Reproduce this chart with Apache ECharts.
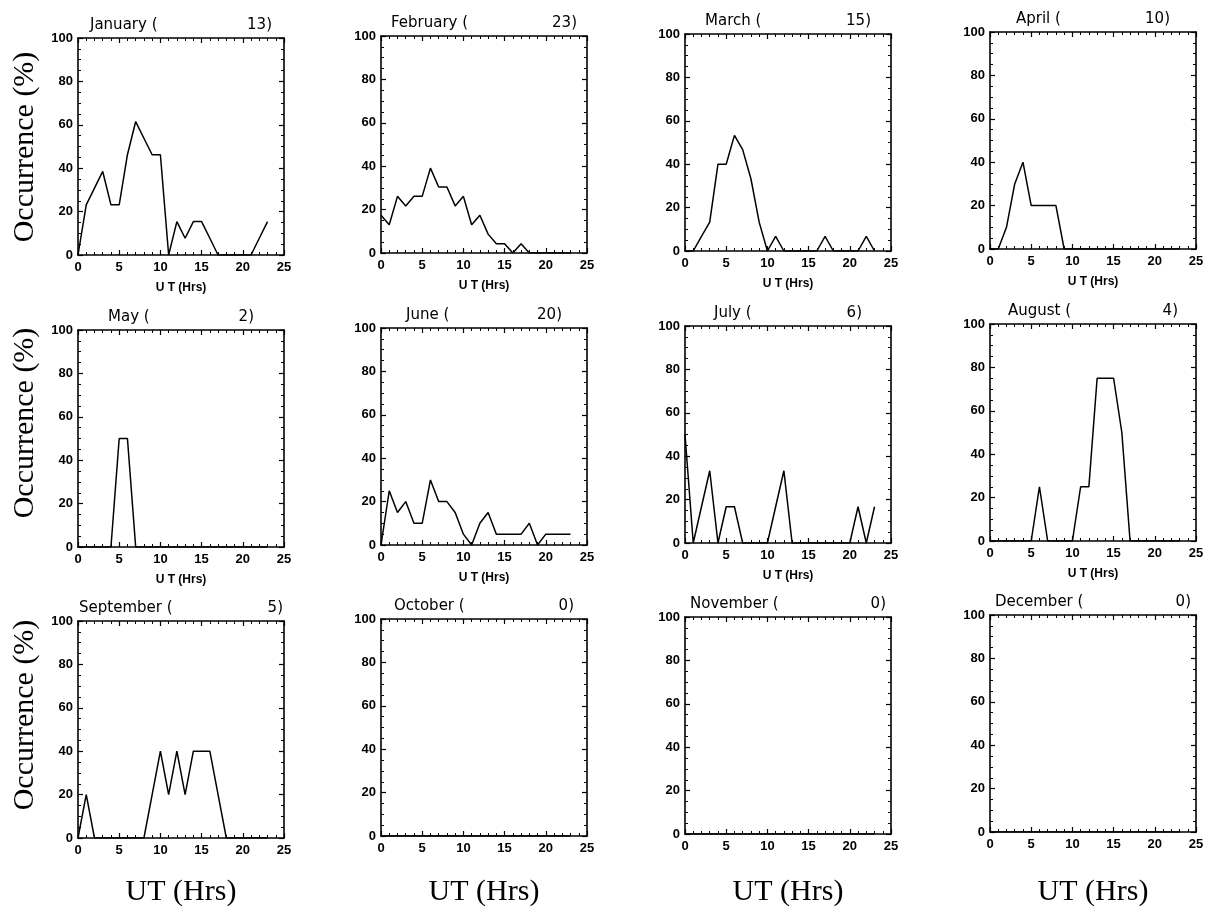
<!DOCTYPE html>
<html>
<head>
<meta charset="utf-8">
<script src="https://cdn.jsdelivr.net/npm/echarts@6/dist/echarts.min.js"></script>
<style>
  html, body { margin: 0; padding: 0; background: #fff; }
  #main { width: 1209px; height: 919px; }
</style>
</head>
<body>
<div id="main"></div>
<script>
// hours 0..23
var hours = [0, 1, 2, 3, 4, 5, 6, 7, 8, 9, 10, 11, 12, 13, 14, 15, 16, 17, 18, 19, 20, 21, 22, 23];

var months = ['January', 'February', 'March', 'April', 'May', 'June',
  'July', 'August', 'September', 'October', 'November', 'December'];
var counts = [13, 23, 15, 10, 2, 20, 6, 4, 5, 0, 0, 0]; // number of events

// occurrence (%) per hour
var jan = [0, 23.1, 30.8, 38.5, 23.1, 23.1, 46.2, 61.5, 53.8, 46.2, 46.2, 0, 15.4, 7.7, 15.4, 15.4, 7.7, 0, 0, 0, 0, 0, 7.7, 15.4];
var feb = [17.4, 13.0, 26.1, 21.7, 26.1, 26.1, 39.1, 30.4, 30.4, 21.7, 26.1, 13.0, 17.4, 8.7, 4.3, 4.3, 0, 4.3, 0, 0, 0, 0, 0, 0];
var mar = [0, 0, 6.7, 13.3, 40, 40, 53.3, 46.7, 33.3, 13.3, 0, 6.7, 0, 0, 0, 0, 0, 6.7, 0, 0, 0, 0, 6.7, 0];
var apr = [0, 0, 10, 30, 40, 20, 20, 20, 20, 0, 0, 0, 0, 0, 0, 0, 0, 0, 0, 0, 0, 0, 0, 0];
var may = [0, 0, 0, 0, 0, 50, 50, 0, 0, 0, 0, 0, 0, 0, 0, 0, 0, 0, 0, 0, 0, 0, 0, 0];
var jun = [0, 25, 15, 20, 10, 10, 30, 20, 20, 15, 5, 0, 10, 15, 5, 5, 5, 5, 10, 0, 5, 5, 5, 5];
var jul = [50, 0, 16.7, 33.3, 0, 16.7, 16.7, 0, 0, 0, 0, 16.7, 33.3, 0, 0, 0, 0, 0, 0, 0, 0, 16.7, 0, 16.7];
var aug = [0, 0, 0, 0, 0, 0, 25, 0, 0, 0, 0, 25, 25, 75, 75, 75, 50, 0, 0, 0, 0, 0, 0, 0];
var sep = [0, 20, 0, 0, 0, 0, 0, 0, 0, 20, 40, 20, 40, 20, 40, 40, 40, 20, 0, 0, 0, 0, 0, 0];
var oct = [0, 0, 0, 0, 0, 0, 0, 0, 0, 0, 0, 0, 0, 0, 0, 0, 0, 0, 0, 0, 0, 0, 0, 0];
var nov = [0, 0, 0, 0, 0, 0, 0, 0, 0, 0, 0, 0, 0, 0, 0, 0, 0, 0, 0, 0, 0, 0, 0, 0];
var dec = [0, 0, 0, 0, 0, 0, 0, 0, 0, 0, 0, 0, 0, 0, 0, 0, 0, 0, 0, 0, 0, 0, 0, 0];
var monthData = [jan, feb, mar, apr, may, jun, jul, aug, sep, oct, nov, dec];

// layout of the 4x3 panels
var colLeft = [78, 381, 685, 990];
var rowTop = [38, 330, 621];
var plotW = 206, plotH = 217;
var titleInset = [12, 10, 20, 26, 30, 25, 29, 18, 1, 13, 5, 5]; // title string spacing

var sans = 'DejaVu Sans';
var tickFont = 'Liberation Sans';
var serif = 'Liberation Serif';

var grids = [], xAxes = [], yAxes = [], seriesList = [], texts = [];

for (var i = 0; i < 12; i++) {
  var r = Math.floor(i / 4), c = i % 4;
  var pLeft = colLeft[c];
  var pTop = rowTop[r] - 2 * c;
  grids.push({ left: pLeft, top: pTop, width: plotW, height: plotH });

  var axLine = { color: '#000', width: 1.6 };
  var tick = { show: true, inside: true, length: 5, lineStyle: { color: '#000', width: 1.2 } };
  // bottom + top x axes
  xAxes.push({
    type: 'value', gridIndex: i, position: 'bottom', min: 0, max: 25, interval: 5,
    axisLine: { onZero: false, lineStyle: axLine },
    axisTick: tick,
    minorTick: { show: true, splitNumber: 5, length: 3, lineStyle: { color: '#000' } },
    splitLine: { show: false },
    axisLabel: { color: '#000', fontFamily: tickFont, fontWeight: 'bold', fontSize: 13, margin: 6 },
    name: r < 2 ? 'U T (Hrs)' : '',
    nameLocation: 'middle', nameGap: 27,
    nameTextStyle: { color: '#000', fontFamily: tickFont, fontWeight: 'bold', fontSize: 12 }
  });
  xAxes.push({
    type: 'value', gridIndex: i, position: 'top', min: 0, max: 25, interval: 5,
    axisLine: { onZero: false, lineStyle: axLine },
    axisTick: tick,
    minorTick: { show: true, splitNumber: 5, length: 3, lineStyle: { color: '#000' } },
    splitLine: { show: false },
    axisLabel: { show: false }
  });
  // left + right y axes
  yAxes.push({
    type: 'value', gridIndex: i, position: 'left', min: 0, max: 100, interval: 20,
    axisLine: { show: true, onZero: false, lineStyle: axLine },
    axisTick: tick,
    minorTick: { show: true, splitNumber: 4, length: 3, lineStyle: { color: '#000' } },
    splitLine: { show: false },
    axisLabel: { color: '#000', fontFamily: tickFont, fontWeight: 'bold', fontSize: 13, margin: 5 }
  });
  yAxes.push({
    type: 'value', gridIndex: i, position: 'right', min: 0, max: 100, interval: 20,
    axisLine: { show: true, onZero: false, lineStyle: axLine },
    axisTick: tick,
    minorTick: { show: true, splitNumber: 4, length: 3, lineStyle: { color: '#000' } },
    splitLine: { show: false },
    axisLabel: { show: false }
  });

  var vals = monthData[i];
  seriesList.push({
    type: 'line',
    xAxisIndex: 2 * i,
    yAxisIndex: 2 * i,
    showSymbol: false,
    lineStyle: { color: '#000', width: 1.5 },
    data: hours.map(function (h, k) { return [h, vals[k]]; })
  });

  // panel title "Month (        n)"
  texts.push({
    type: 'text', x: pLeft + titleInset[i], y: pTop - 13,
    style: { text: months[i] + ' (', font: '15px "' + sans + '"', fill: '#000',
      textAlign: 'left', textVerticalAlign: 'middle' }
  });
  texts.push({
    type: 'text', x: pLeft + plotW - titleInset[i], y: pTop - 13,
    style: { text: counts[i] + ')', font: '15px "' + sans + '"', fill: '#000',
      textAlign: 'right', textVerticalAlign: 'middle' }
  });

  if (r === 2) {
    texts.push({
      type: 'text', x: pLeft + plotW / 2, y: 892,
      style: { text: 'UT (Hrs)', font: '30px "' + serif + '"', fill: '#000',
        textAlign: 'center', textVerticalAlign: 'middle' }
    });
  }
}

var yNameCenter = [147, 423, 715];
for (var rr = 0; rr < 3; rr++) {
  texts.push({
    type: 'text', x: 25, y: yNameCenter[rr], rotation: Math.PI / 2,
    style: { text: 'Occurrence (%)', font: '30px "' + serif + '"', fill: '#000',
      textAlign: 'center', textVerticalAlign: 'middle' }
  });
}

var chart = echarts.init(document.getElementById('main'));
chart.setOption({
  backgroundColor: '#fff',
  animation: false,
  grid: grids,
  xAxis: xAxes,
  yAxis: yAxes,
  series: seriesList,
  graphic: texts
});
</script>
</body>
</html>
